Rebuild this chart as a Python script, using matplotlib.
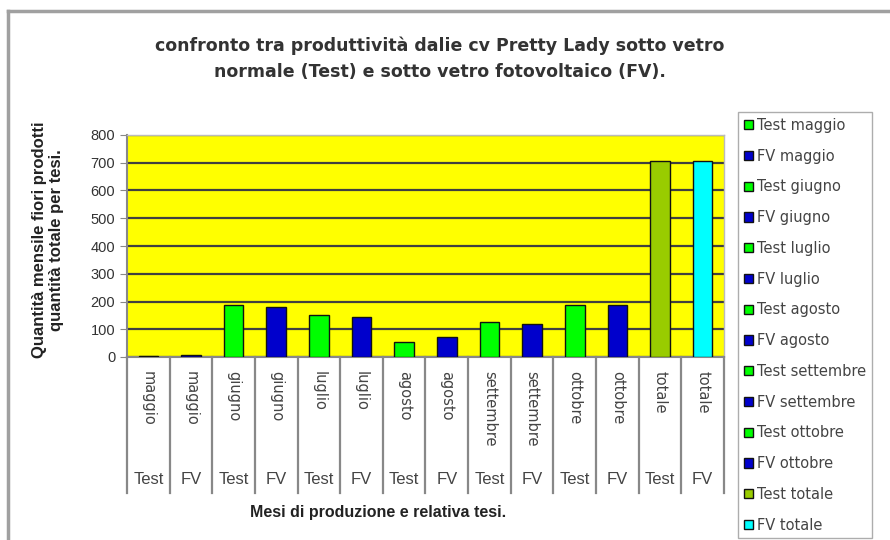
import matplotlib.pyplot as plt
import matplotlib.transforms as mtransforms
from matplotlib.lines import Line2D

months = ['maggio', 'maggio', 'giugno', 'giugno', 'luglio', 'luglio', 'agosto', 'agosto',
          'settembre', 'settembre', 'ottobre', 'ottobre', 'totale', 'totale']
tesi = ['Test', 'FV'] * 7
values = [5, 9, 187, 181, 151, 145, 55, 71, 127, 119, 187, 187, 707, 707]
colors = ['#00FF00', '#0000CC'] * 6 + ['#99CC00', '#00FFFF']
y_ticks = [0, 100, 200, 300, 400, 500, 600, 700, 800]

title = ('confronto tra produttività dalie cv Pretty Lady sotto vetro\n'
         'normale (Test) e sotto vetro fotovoltaico (FV).')
y_label = 'Quantità mensile fiori prodotti\nquantità totale per tesi.'
x_label = 'Mesi di produzione e relativa tesi.'

fig = plt.figure(figsize=(8.9, 5.4), dpi=100)
ax = fig.add_axes([127 / 890, 1 - 357 / 540, 597 / 890, 222 / 540])
ax.set_facecolor('#FFFF00')

x = list(range(len(values)))
for i in x:
    ax.bar(i, values[i], width=0.46, color=colors[i], edgecolor='#111111', linewidth=1,
           label=tesi[i] + ' ' + months[i], zorder=3)

ax.set_xlim(-0.5, len(values) - 0.5)
ax.set_ylim(0, 800)
ax.set_yticks(y_ticks)
ax.set_yticklabels([str(v) for v in y_ticks], fontsize=10.5, family='Liberation Sans', color='#333333')
ax.set_xticks([])
ax.yaxis.grid(True, color='#404040', linewidth=1.6, zorder=1)
ax.tick_params(axis='y', length=5, color='#888888')
for s in ['left', 'bottom']:
    ax.spines[s].set_color('#888888')
    ax.spines[s].set_linewidth(1.5)
for s in ['top', 'right']:
    ax.spines[s].set_color('#BBBBBB')
    ax.spines[s].set_linewidth(1)

# category labels under the axis
trans = mtransforms.blended_transform_factory(ax.transData, ax.transAxes)
for i in x:
    ax.text(i, -0.065, months[i], rotation=270, ha='center', va='top', fontsize=10.5,
            color='#444444', transform=trans)
    ax.text(i, -0.55, tesi[i], ha='center', va='center', fontsize=12,
            family='Liberation Sans', color='#444444', transform=trans)
for b in range(len(values) + 1):
    ax.add_line(Line2D([b - 0.5, b - 0.5], [0, -0.613], color='#888888', linewidth=1.6,
                       transform=trans, clip_on=False))

fig.text(440 / 890, 1 - 59 / 540, title, ha='center', va='center', fontsize=12.5,
         fontweight='bold', color='#333333', linespacing=1.55)
fig.text(48 / 890, 1 - 240 / 540, y_label, ha='center', va='center', rotation=90,
         fontsize=12, fontweight='bold', family='Liberation Sans', color='#222222', linespacing=1.15)
fig.text(378 / 890, 1 - 512 / 540, x_label, ha='center', va='center', fontsize=11.5,
         fontweight='bold', family='Liberation Sans', color='#222222')

leg = fig.legend(loc='upper left', bbox_to_anchor=(738 / 890, 1 - 112 / 540),
                 prop={'size': 10.5}, frameon=True, fancybox=False,
                 edgecolor='#999999', handlelength=0.6, handleheight=0.6, handletextpad=0.3,
                 labelspacing=1.08, borderpad=0.4, borderaxespad=0)
for t in leg.get_texts():
    t.set_color('#444444')

# outer chart frame
fig.add_artist(Line2D([8 / 890, 1.0], [1 - 11 / 540, 1 - 11 / 540], color='#A0A0A0',
                      linewidth=2.5, transform=fig.transFigure))
fig.add_artist(Line2D([8 / 890, 8 / 890], [0, 1 - 11 / 540], color='#A0A0A0',
                      linewidth=2.5, transform=fig.transFigure))

fig.savefig('out.png', dpi=100)
